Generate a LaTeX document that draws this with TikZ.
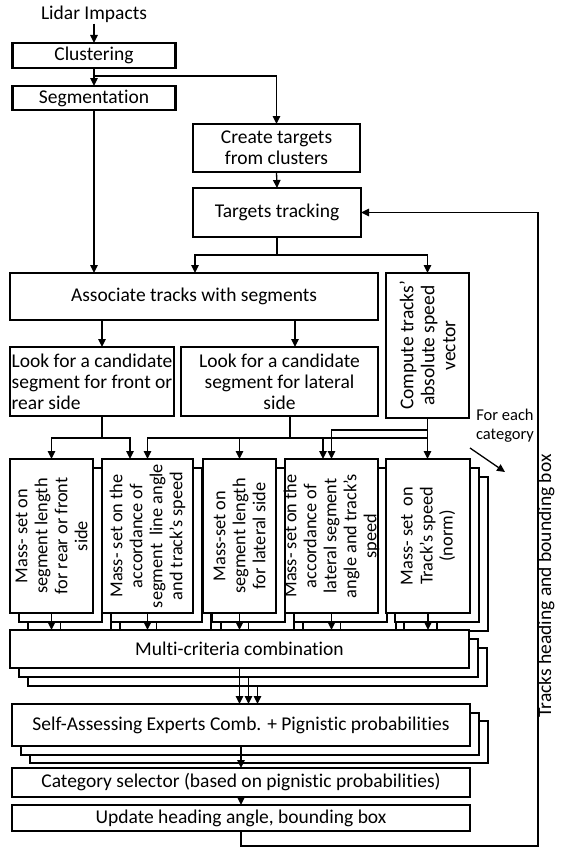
\documentclass[tikz,border=0pt]{standalone}
\usepackage{fontspec}
\setmainfont{Carlito}[Ligatures=NoCommon]
\usetikzlibrary{arrows.meta,calc}
\newcommand\fs{\fontsize{19.5}{21}\selectfont}
\newcommand\fm{\fontsize{18.3}{20}\selectfont}
\newcommand\fc{\fontsize{16.5}{19}\selectfont}
\tikzset{
  box/.style={draw, line width=2.6pt, fill=white, inner sep=0pt, outer sep=0pt, font=\fs, align=center},
  mbox/.style={draw, line width=2.6pt, fill=white, inner sep=0pt, outer sep=0pt, minimum height=154pt},
  mtext/.style={rotate=90, align=center, font=\fm, inner sep=0pt},
  conn/.style={line width=1.3pt},
  arr/.style={line width=1.3pt, -{Triangle[length=8pt,width=7.5pt]}},
}
\newcommand\mstack[4]{%
  \node[mbox, minimum width=#3pt] (#1c) at (#2+18,554) {};
  \node[mbox, minimum width=#3pt] (#1b) at (#2+9,545) {};
  \node[mbox, minimum width=#3pt] (#1) at (#2,536) {};
  \node[mtext] (#1t) at (#1) {#4};
}
\begin{document}
\begin{tikzpicture}[x=1pt,y=-1pt]
\fill[white] (0,0) rectangle (561,859);
\useasboundingbox (0,0) rectangle (561,859);

% top boxes
\node[font=\fs, inner sep=1pt] (lidar) at (94,14) {Lidar Impacts};
\node[box, minimum width=163pt, minimum height=25pt] (clus) at (94,55.5) {Clustering};
\node[box, minimum width=163pt, minimum height=24pt] (seg) at (94,98) {Segmentation};
\node[box, minimum width=167pt, minimum height=48pt] (create) at (276.5,148) {Create targets\\from clusters};
\node[box, minimum width=168pt, minimum height=49pt] (track) at (277,212.5) {Targets tracking};
\node[box, minimum width=368pt, minimum height=47pt] (assoc) at (194,296.5) {Associate tracks with segments};
\node[box, minimum width=83pt, minimum height=145pt] (compute) at (427.5,345.5) {};
\node[mtext, font=\fs, text depth=0pt] (computet) at (compute) {Compute tracks’\\absolute speed\\vector};
\node[box, minimum width=164pt, minimum height=69pt, align=left] (lookF) at (92,381.5) {Look for a candidate\\segment for front or\\rear side};
\node[box, minimum width=197pt, minimum height=69pt] (lookL) at (279.5,381.5) {Look for a candidate\\segment for lateral\\side};

% mass stacks
\mstack{m1}{51.5}{83}{Mass- set on\\segment length\\for rear or front\\side}
\mstack{m2}{147.5}{91}{Mass- set on the\\accordance of\\segment\ \ line angle\\and track’s speed}
\mstack{m3}{239.5}{73}{Mass-set on\\segment length\\for lateral side}
\mstack{m4}{331.5}{93}{Mass- set on the\\accordance of\\lateral segment\\angle and track’s\\speed}
\mstack{m5}{428}{84}{Mass- set\ \ on\\Track’s speed\\(norm)}

% multi-criteria stack
\node[box, minimum width=459pt, minimum height=38pt] (multic) at (257.5,667) {};
\node[box, minimum width=459pt, minimum height=38pt] (multib) at (248.5,658) {};
\node[box, minimum width=459pt, minimum height=38pt] (multi) at (239.5,649) {Multi-criteria combination};

% SAE stack
\node[box, minimum width=458pt, minimum height=42pt] (saec) at (259,742) {};
\node[box, minimum width=458pt, minimum height=42pt] (saeb) at (250,734) {};
\node[box, minimum width=458pt, minimum height=42pt] (sae) at (241,725) {Self-Assessing Experts Comb. + Pignistic probabilities};

\node[box, minimum width=458pt, minimum height=29pt] (cat) at (241,782.5) {Category selector (based on pignistic probabilities)};
\node[box, minimum width=458pt, minimum height=26pt] (upd) at (241,818) {Update heading angle, bounding box};

% side texts
\node[font=\fc, align=center, inner sep=0pt] (fec) at (505,426) {For each\\category};
\node[rotate=90, font=\fs, inner sep=0pt] (thb) at (546,586) {Tracks heading and bounding box};

% connectors top
\draw[arr] (lidar.south) -- (clus.north);
\draw[arr] (clus.south) -- (seg.north);
\coordinate (br1) at (94,76);
\draw[arr] (br1) -| (create.north);
\draw[arr] (create.south) -- (track.north);
\draw[arr] (seg.south) -- (seg.south |- assoc.north);
\coordinate (br2) at (277,255);
\coordinate (ta) at (195,255);
\draw[conn] (track.south) -- (br2);
\draw[arr] (br2) -- (ta) -- (ta |- assoc.north);
\draw[arr] (br2) -| (compute.north);

% assoc -> look
\coordinate (al) at (102,0);
\coordinate (ar) at (295,0);
\draw[arr] (al |- assoc.south) -- (al |- lookF.north);
\draw[arr] (ar |- assoc.south) -- (ar |- lookL.north);

% look / compute -> mass
\coordinate (jf) at (102,438);
\coordinate (x130) at (130,0);
\draw[conn] (jf |- lookF.south) -- (jf);
\draw[arr] (jf) -| (m1.north);
\draw[arr] (jf) -| (x130 |- m2.north);
\coordinate (jl) at (290,438);
\coordinate (x323) at (323,0);
\draw[conn] (jl |- lookL.south) -- (jl);
\draw[conn] (jl) -- (jl -| compute.south);
\draw[arr] (jl) -| (m2.north);
\draw[arr] (jl) -| (m3.north);
\draw[arr] (jl) -| (x323 |- m4.north);
\coordinate (jc) at (427.5,430);
\draw[arr] (compute.south) -- (compute.south |- m5.north);
\draw[arr] (jc) -| (m4.north);

% for each category arrow
\coordinate (fa1) at (470,448);
\coordinate (fa2) at (505,472);
\draw[arr] (fa1) -- (fa2);

% mass -> multi
\foreach \m in {m1,m2,m3,m4,m5}{
  \draw[arr] (\m.south) -- (\m.south |- multi.north);
  \draw[conn] (\m b.south) -- (\m b.south |- multi.north);
}

% multi -> sae
\draw[arr] (multi.south) -- (multi.south |- sae.north);
\draw[arr] (multib.south) -- (multib.south |- sae.north);
\draw[arr] (multic.south) -- (multic.south |- sae.north);

\draw[arr] (sae.south) -- (sae.south |- cat.north);
\draw[arr] (cat.south) -- (upd.north);

% feedback
\coordinate (fb1) at (538,846);
\draw[arr] (upd.south) |- (fb1) |- (track.east);
\end{tikzpicture}
\end{document}
